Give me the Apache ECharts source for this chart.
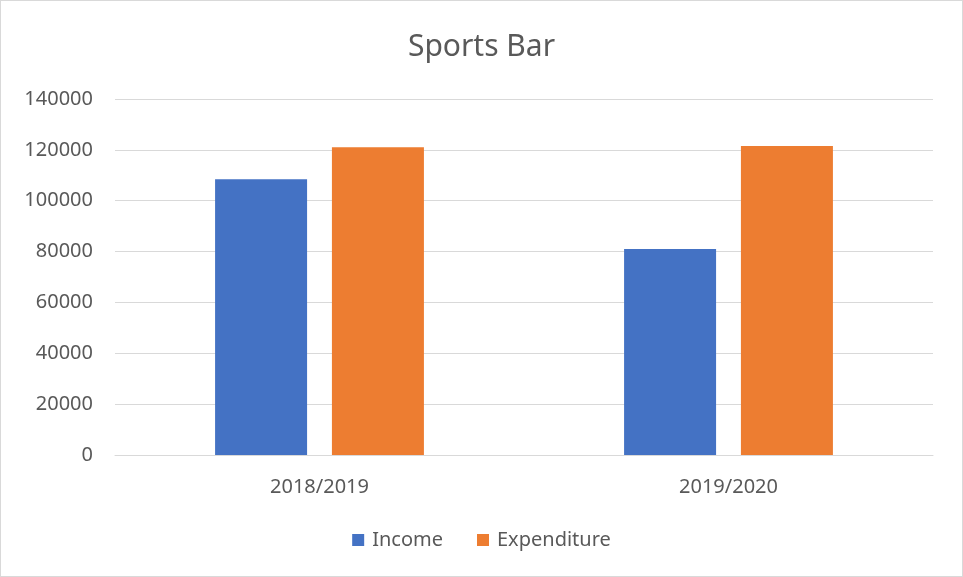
<!DOCTYPE html>
<html>
<head>
<meta charset="utf-8">
<script src="https://cdn.jsdelivr.net/npm/echarts@6/dist/echarts.min.js"></script>
<style>
  html, body { margin: 0; padding: 0; background: #fff; }
  #chart {
    width: 961px;
    height: 575px;
    border: 1px solid #d9d9d9;
  }
</style>
</head>
<body>
<div id="chart"></div>
<script>
// data
const seasons = ['2018/2019', '2019/2020'];
const income = [108400, 81000];
const expenditure = [121000, 121500];

const textColor = '#595959';
const font = 'Noto Sans';

let mychart = echarts.init(document.getElementById('chart'));

let option = {
    textStyle: { fontFamily: font, color: textColor },
    title: {
        text: 'Sports Bar',
        left: 'center',
        top: 26,
        textStyle: { fontFamily: font, fontSize: 30, fontWeight: 'normal', color: textColor }
    },
    legend: {
        bottom: 21,
        left: 'center',
        itemWidth: 12,
        itemHeight: 12,
        itemGap: 34,
        icon: 'rect',
        textStyle: { fontFamily: font, fontSize: 20, color: textColor, padding: [0, 0, 0, 3] },
        data: ['Income', 'Expenditure']
    },
    grid: {
        left: 114,
        right: 29,
        top: 98,
        bottom: 121
    },
    xAxis: {
        type: 'category',
        data: seasons,
        axisLine: { lineStyle: { color: '#d9d9d9', width: 1 } },
        axisTick: { show: false },
        axisLabel: { fontFamily: font, fontSize: 20, color: textColor, margin: 22 }
    },
    yAxis: {
        type: 'value',
        min: 0,
        max: 140000,
        interval: 20000,
        axisLine: { show: false },
        axisTick: { show: false },
        splitLine: { lineStyle: { color: '#d9d9d9', width: 1 } },
        axisLabel: {
            fontFamily: font, fontSize: 20, color: textColor, margin: 22,
            formatter: (v) => String(v)
        }
    },
    series: [
        {
            name: 'Income',
            type: 'bar',
            data: income,
            barWidth: 92,
            barGap: '27%',
            itemStyle: { color: '#4472C4' }
        },
        {
            name: 'Expenditure',
            type: 'bar',
            data: expenditure,
            barWidth: 92,
            itemStyle: { color: '#ED7D31' }
        }
    ]
};

mychart.setOption(option);
</script>
</body>
</html>
